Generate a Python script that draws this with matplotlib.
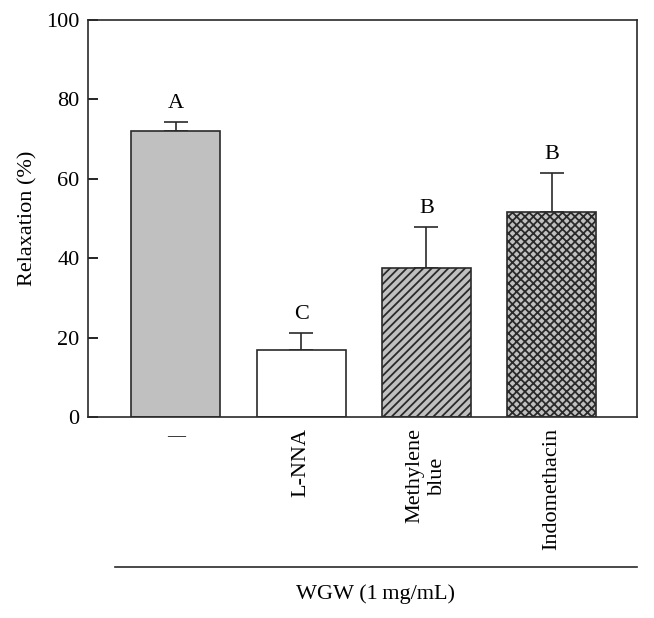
import matplotlib
matplotlib.use("Agg")
import matplotlib.pyplot as plt

# data
categories = ["\u2014", "L-NNA", "Methylene\nblue", "Indomethacin"]
relaxation = [72.1, 16.8, 37.6, 51.6]
sem = [2.2, 4.3, 10.2, 9.8]
letters = ["A", "C", "B", "B"]
fills = ["#c0c0c0", "white", "#c0c0c0", "#c0c0c0"]
hatches = [None, None, "////", "xxxx"]

plt.rcParams["font.family"] = ["Liberation Serif", "DejaVu Serif"]
plt.rcParams["hatch.linewidth"] = 1.3

fig = plt.figure(figsize=(6.54, 6.18), dpi=100)
ax = fig.add_axes([88 / 654, 1 - 417 / 618, 549 / 654, 397 / 618])

x = list(range(len(categories)))
bars = ax.bar(x, relaxation, width=0.71, color=fills, edgecolor="#2a2a2a",
              linewidth=1.2, zorder=2)
for b, h in zip(bars, hatches):
    if h:
        b.set_hatch(h)
ax.errorbar(x, relaxation, yerr=[[0] * len(sem), sem], fmt="none",
            ecolor="#2a2a2a", elinewidth=1.2, capsize=8.5, capthick=1.2, zorder=1)

for xi, v, e, lab in zip(x, relaxation, sem, letters):
    ax.text(xi, v + e + 2.3, lab, ha="center", va="bottom", fontsize=16)

ax.set_xlim(-0.70, 3.68)
ax.set_ylim(0, 100)
ax.set_yticks([0, 20, 40, 60, 80, 100])
ax.tick_params(axis="y", direction="in", length=7, width=1.2, labelsize=16, pad=6)
ax.set_xticks(x)
ax.set_xticklabels(categories, rotation=90, va="top", ha="center",
                   fontsize=16, linespacing=1.25)
ax.get_xticklabels()[0].set_rotation(0)
ax.get_xticklabels()[0].set_fontsize(13)
ax.tick_params(axis="x", length=0, pad=8)
ax.set_ylabel("Relaxation (%)", fontsize=16, labelpad=6)
for s in ax.spines.values():
    s.set_linewidth(1.2)
    s.set_color("#2a2a2a")

# group bracket line and label under the axis
fig.add_artist(plt.Line2D([115 / 654, 637 / 654], [1 - 567 / 618, 1 - 567 / 618],
                          color="#2a2a2a", linewidth=1.2))
fig.text(375 / 654, 1 - 594 / 618, "WGW (1\u2009mg/mL)", ha="center", va="center",
         fontsize=16)

fig.savefig("out.png", dpi=100)
